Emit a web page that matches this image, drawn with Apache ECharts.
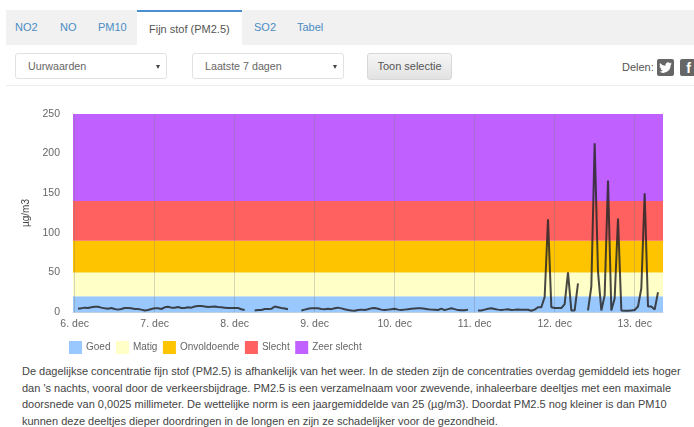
<!DOCTYPE html>
<html>
<head>
<meta charset="utf-8">
<style>
  html, body { margin: 0; padding: 0; background: #fff; overflow: hidden; }
  body { width: 694px; height: 427px; position: relative; font-family: "Liberation Sans", sans-serif; font-size: 11px; color: #555; }
  .abs { position: absolute; white-space: nowrap; }
  #tabbar { left: 6px; top: 10px; width: 688px; height: 35px; background: #f1f1f1; }
  #active { left: 137px; top: 10px; width: 105px; height: 35px; background: #fff; border-top: 2px solid #4a90d0; box-sizing: border-box; }
  .tab { color: #4a8cc4; top: 21px; font-size: 11px; }
  .sel { top: 53px; height: 26px; width: 152px; box-sizing: border-box; border: 1px solid #e2e2e2; border-radius: 3px; background: #fff; }
  .sel span { position: absolute; left: 12px; top: 6px; font-size: 10.7px; color: #666; }
  .sel i { position: absolute; right: 6px; top: 11px; border-left: 2px solid transparent; border-right: 2px solid transparent; border-top: 4px solid #444; }
  #btn { left: 367px; top: 53px; width: 85px; height: 27px; box-sizing: border-box; border: 1px solid #d8d8d8; border-radius: 3px; background: linear-gradient(#f6f6f6, #e2e2e2); text-align: center; line-height: 25px; font-size: 11px; color: #555; }
  #rule { left: 6px; top: 85px; width: 688px; height: 1px; background: #eee; }
  .ico { top: 59px; width: 17px; height: 17px; background: #666; border-radius: 2px; color: #fff; text-align: center; font-weight: bold; font-size: 14px; line-height: 18px; overflow: hidden; }
  #main { position: absolute; left: 0; top: 90px; width: 694px; height: 270px; }
  #txt { left: 22px; top: 363px; line-height: 16.6px; font-size: 11px; color: #444; }
</style>
</head>
<body>
<div class="abs" id="tabbar"></div>
<div class="abs" id="active"></div>
<div class="abs tab" style="left:15px">NO2</div>
<div class="abs tab" style="left:60px">NO</div>
<div class="abs tab" style="left:98px">PM10</div>
<div class="abs tab" style="left:149px;top:23px;color:#555">Fijn stof (PM2.5)</div>
<div class="abs tab" style="left:254px">SO2</div>
<div class="abs tab" style="left:297px">Tabel</div>
<div class="abs sel" style="left:15px"><span>Uurwaarden</span><i></i></div>
<div class="abs sel" style="left:192px"><span>Laatste 7 dagen</span><i></i></div>
<div class="abs" id="btn">Toon selectie</div>
<div class="abs" style="left:622px;top:61px;color:#555">Delen:</div>
<div class="abs ico" style="left:657px"><svg width="17" height="17" viewBox="0 0 24 24" style="display:block"><path fill="#fff" d="M21 6.5c-.7.3-1.4.5-2.1.6.8-.5 1.3-1.2 1.6-2-.7.4-1.5.7-2.3.9a3.7 3.7 0 0 0-6.3 3.4C8.800 9.200 6.100 7.800 4.300 5.500c-1 1.700-.5 3.800 1.100 4.900-.6 0-1.200-.2-1.700-.5 0 1.800 1.300 3.300 3 3.700-.5.100-1.100.2-1.700.1.500 1.500 1.900 2.500 3.500 2.600A7.500 7.500 0 0 1 3 17.800 10.500 10.500 0 0 0 19.200 8.500c.7-.5 1.300-1.200 1.800-2z"/></svg></div>
<div class="abs ico" style="left:680px">f</div>
<div class="abs" id="rule"></div>
<div id="main"></div>
<div class="abs" id="txt">De dagelijkse concentratie fijn stof (PM2.5) is afhankelijk van het weer. In de steden zijn de concentraties overdag gemiddeld iets hoger<br>dan 's nachts, vooral door de verkeersbijdrage. PM2.5 is een verzamelnaam voor zwevende, inhaleerbare deeltjes met een maximale<br>doorsnede van 0,0025 millimeter. De wettelijke norm is een jaargemiddelde van 25 (µg/m3). Doordat PM2.5 nog kleiner is dan PM10<br>kunnen deze deeltjes dieper doordringen in de longen en zijn ze schadelijker voor de gezondheid.</div>

<script src="https://cdn.jsdelivr.net/npm/echarts@6/dist/echarts.min.js"></script>
<script>
var days = ['6. dec', '7. dec', '8. dec', '9. dec', '10. dec', '11. dec', '12. dec', '13. dec'];
// uurwaarden per dag, null = geen meting
var dec6 = [null, 4, 4.6, 5.5, 5, 5.9, 6.7, 6.7, 5.5, 4.6, 4.2, 5, 3.8, 3, 3.8, 5, 5, 4.6, 3.8, 3.8, 3, 2, 2.5, 3.8];
var dec7 = [4.6, 4.6, 3.8, 5.9, 6.7, 5.5, 5.5, 6.3, 5, 5, 5.9, 5.5, 7, 7.5, 7.5, 7, 6.3, 6.7, 7, 6.3, 5.9, 5.5, 5, 5];
var dec8 = [5, 5, 3.5, 2.5, null, null, 2, 2.5, 2.5, 3.8, 3.8, 4, 7, 6, 5, 4.5, 3.5, null, null, null, 2, 3, 4, 4.6];
var dec9 = [4.8, 4.6, 3.8, 3.6, 4.2, 3.6, 4.8, 5.5, 4.6, 3.4, 2.5, 1.8, 1.5, 2.5, 3, 2.6, 3.4, 4.6, 5, 4, 3, 2.5, 3, 3.5];
var dec10 = [4, 3, 2.5, 3, 3.5, 4, 4.5, 4.6, 4.6, 4.2, 3.5, 3, 2.8, 2.6, 4.2, 2.4, 3.6, 4.8, 3.6, 2.4, 2.2, 2.2, 3, null];
var dec11 = [null, 2, 2, 3, 4, 4.6, 3.8, 3, 2.6, 3, 3.4, 2.6, 2.8, 3.2, 2.8, 3, 2.8, 1.5, 3, 6, 6, 19, 117, 6];
var dec12 = [5, 5, 5, 10, 50, 2, 2, 36, null, null, 2, 32, 213, 51, 2, 21, 166, 2, 17, 118, 2, 1.5, 1.5, 2];
var dec13 = [2.5, 7, 30, 150, 7, 7, 3, 25, null];
var values = [].concat(dec6, dec7, dec8, dec9, dec10, dec11, dec12, dec13);

var bandNames = ['Goed', 'Matig', 'Onvoldoende', 'Slecht', 'Zeer slecht'];
var bandFrom = [0, 20, 50, 90, 140];
var bandTo = [20, 50, 90, 140, 250];
var bandColors = ['#99c8ff', '#ffffc8', '#ffc400', '#ff6060', '#c060ff'];

var hours = values.map(function (v, i) {
  return days[Math.floor(i / 24)] + ' ' + (i % 24) + ':00';
});
function isDayStart(index) {
  return index % 24 === 0;
}

var series = bandNames.map(function (name, i) {
  return {
    name: name,
    type: 'line',
    data: [],
    z: 0,
    itemStyle: { color: bandColors[i] },
    markArea: {
      silent: true,
      z: 0,
      itemStyle: { color: bandColors[i], opacity: 1 },
      data: [[{ yAxis: bandFrom[i] }, { yAxis: bandTo[i] }]]
    }
  };
});
series.push({
  name: 'PM2.5',
  type: 'line',
  data: values,
  z: 3,
  showSymbol: false,
  connectNulls: false,
  lineStyle: { color: 'rgba(40,40,40,0.85)', width: 2 },
  itemStyle: { color: '#333' }
});

var chart = echarts.init(document.getElementById('main'), null, { renderer: 'canvas' });
chart.setOption({
  animation: false,
  textStyle: { fontFamily: 'Liberation Sans' },
  grid: { left: 73, top: 24, width: 590, height: 198 },
  legend: {
    left: 64,
    top: 246,
    data: bandNames,
    icon: 'rect',
    itemWidth: 13,
    itemHeight: 13,
    itemGap: 5.5,
    selectedMode: false,
    textStyle: { color: '#666', fontSize: 10, padding: [0, 0, 0, -1] }
  },
  xAxis: {
    type: 'category',
    data: hours,
    z: 2,
    axisLine: { lineStyle: { color: '#c0d0e0' } },
    axisTick: { alignWithLabel: true, interval: isDayStart, lineStyle: { color: '#c0d0e0' }, length: 5 },
    axisLabel: {
      interval: isDayStart,
      formatter: function (v) { return v.split(' ').slice(0, 2).join(' '); },
      color: '#666',
      fontSize: 10.5,
      margin: 7
    },
    splitLine: { show: true, alignWithLabel: true, interval: isDayStart, lineStyle: { color: 'rgba(120,120,120,0.3)', width: 1 } }
  },
  yAxis: {
    type: 'value',
    min: 0,
    max: 250,
    interval: 50,
    name: 'µg/m3',
    nameLocation: 'middle',
    nameGap: 28,
    nameTextStyle: { color: '#444', fontSize: 10 },
    axisLabel: { color: '#666', fontSize: 10.5, margin: 13 },
    splitLine: { show: false }
  },
  series: series
});
</script>
</body>
</html>
